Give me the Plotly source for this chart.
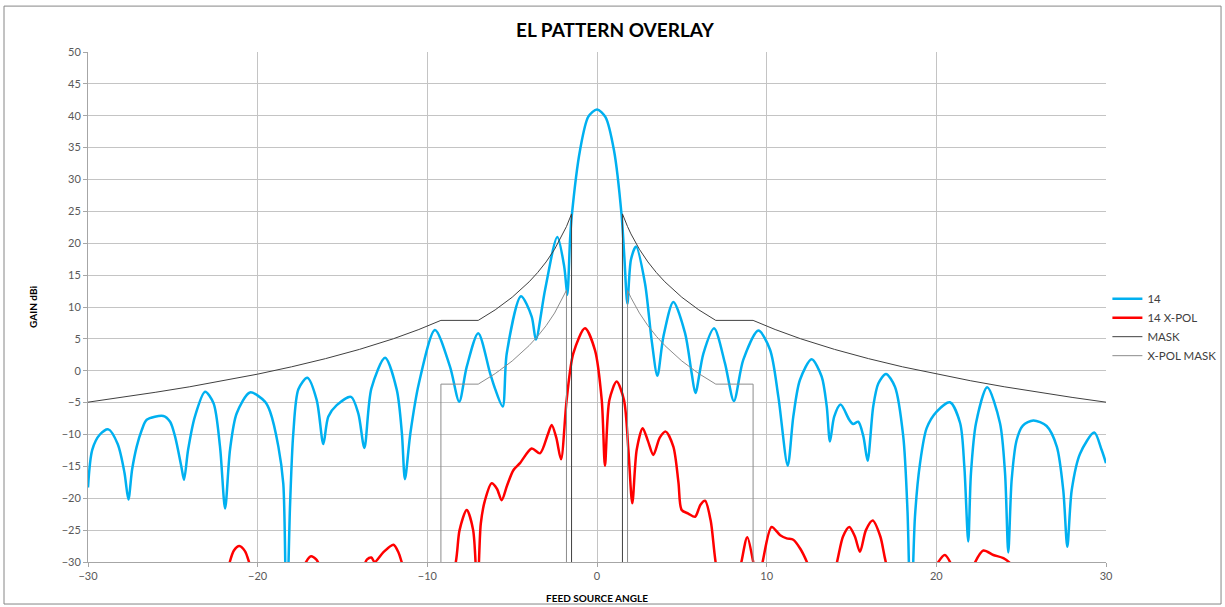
import plotly.graph_objects as go

# ---------------- data ----------------
BLUE_X = [-30.0, -29.75, -29.3, -28.8, -28.25, -27.85, -27.62, -27.4, -27.13, -26.83, -26.54, -25.56,
          -25.16, -24.87, -24.5, -24.34, -24.1, -23.7, -23.1, -22.6, -22.22, -21.92, -21.63, -21.24,
          -20.45, -19.57, -19.27, -18.78, -18.49, -18.3, -18.09, -17.9, -17.6, -17.07, -16.52, -16.13,
          -15.84, -15.34, -14.5, -14.07, -13.71, -13.3, -12.49, -11.8, -11.5, -11.32, -11.0, -10.5,
          -9.55, -8.66, -8.12, -7.68, -7.0, -6.3, -6.01, -5.56, -5.32, -4.48, -3.85, -3.6, -3.06,
          -2.34, -1.93, -1.75, -1.59, -1.49, -1.0, -0.51, 0.0, 0.5, 1.0, 1.45, 1.61, 1.79, 2.0, 2.3,
          2.83, 3.22, 3.56, 3.91, 4.5, 5.19, 5.58, 5.8, 6.27, 6.9, 7.54, 8.07, 8.62, 9.51, 10.2,
          10.69, 11.24, 11.57, 11.96, 12.65, 13.24, 13.54, 13.73, 13.98, 14.36, 14.87, 15.1, 15.4,
          15.7, 15.95, 16.28, 16.58, 17.03, 17.56, 18.05, 18.3, 18.5, 18.74, 19.04, 19.43, 20.02,
          20.8, 21.4, 21.65, 21.88, 22.04, 22.34, 23.0, 23.75, 24.05, 24.24, 24.44, 24.73, 25.1,
          25.72, 26.5, 27.1, 27.48, 27.72, 27.98, 28.47, 29.31, 29.74, 30.0]
BLUE_Y = [-18.3, -12.4, -10.0, -9.2, -11.5, -16.0, -20.2, -15.5, -11.9, -9.3, -7.7, -7.1,
          -8.0, -10.3, -15.0, -17.1, -12.4, -7.2, -3.3, -5.1, -11.9, -21.6, -12.4, -6.7,
          -3.4, -4.85, -6.4, -11.9, -17.7, -40.0, -21.0, -9.8, -2.9, -1.1, -4.6, -11.5,
          -7.2, -5.4, -4.1, -6.7, -12.1, -2.8, 2.05, -3.0, -9.8, -17.0, -9.8, -2.0,
          6.4, 0.6, -4.85, 0.6, 5.9, -0.4, -2.8, -5.6, 2.7, 11.7, 8.5, 4.9, 12.7,
          21.0, 16.3, 11.9, 20.5, 24.2, 34.6, 39.85, 41.0, 39.8, 34.6, 24.4, 17.9, 10.5, 17.4, 19.5,
          13.7, 4.8, -0.8, 5.3, 10.8, 5.9, -0.4, -3.5, 2.7, 6.65, 1.2, -4.75, 1.7, 6.3, 3.3,
          -4.1, -14.9, -7.2, -1.45, 1.8, -0.9, -5.6, -11.1, -7.2, -5.3, -7.7, -8.35, -8.0,
          -10.3, -14.1, -5.6, -2.0, -0.5, -2.5, -10.3, -22.0, -40.0, -22.9, -14.5, -9.0, -6.4,
          -4.95, -8.2, -15.0, -26.8, -16.1, -8.2, -2.6, -8.2, -16.1, -28.5, -17.1, -10.9, -8.6,
          -7.8, -8.67, -11.9, -18.7, -27.6, -18.7, -13.0, -9.7, -12.4, -14.5]

RED_X = [-22.5, -21.7, -21.4, -21.08, -20.75, -20.45, -19.5, -17.4, -17.15, -16.85, -16.55, -16.35,
         -15.0, -13.8, -13.55, -13.3, -13.1, -12.6, -12.0, -11.7, -11.45, -10.0, -8.4, -8.1, -7.68,
         -7.3, -7.05, -6.85, -6.6, -6.21, -5.9, -5.62, -5.3, -4.93, -4.54, -3.85, -3.36, -2.9, -2.67,
         -2.4, -2.12, -1.79, -1.4, -0.71, -0.12, 0.28, 0.47, 0.73, 1.16, 1.59, 1.85, 2.08, 2.34,
         2.69, 3.0, 3.32, 3.7, 4.05, 4.5, 4.8, 4.99, 5.38, 5.78, 6.1, 6.37, 6.7, 7.05, 7.8, 8.47,
         8.86, 9.25, 9.5, 9.76, 10.29, 10.8, 11.18, 11.57, 12.0, 12.45, 13.3, 14.1, 14.5, 14.87,
         15.2, 15.5, 15.85, 16.25, 16.7, 17.07, 18.5, 20.0, 20.5, 20.9, 21.5, 22.2, 22.77, 23.36,
         23.95, 24.44, 25.0]
RED_Y = [-38.0, -30.5, -28.2, -27.5, -28.3, -30.5, -38.0, -32.0, -30.0, -29.1, -29.6, -30.5,
         -38.0, -31.0, -29.6, -29.3, -30.0, -28.5, -27.3, -28.5, -30.5, -40.0, -31.0, -25.0, -21.85,
         -25.0, -35.0, -24.0, -20.3, -17.65, -18.5, -20.3, -18.0, -15.6, -14.5, -12.2, -12.95, -10.0, -8.5,
         -10.5, -13.9, -4.6, 2.7, 6.66, 3.25, -4.6, -14.9, -4.6, -1.7, -4.6, -12.4, -20.8, -12.4,
         -9.0, -11.0, -13.2, -10.5, -9.55, -11.9, -17.5, -21.85, -22.4, -22.9, -21.0, -20.4, -23.5, -31.0, -38.0, -30.5,
         -26.1, -30.5, -33.0, -30.0, -24.5, -25.8, -26.3, -26.5, -28.0, -30.5, -37.0, -30.5, -26.0, -24.5,
         -26.0, -28.4, -25.0, -23.5, -26.0, -30.5, -40.0, -30.5, -28.9, -30.5, -36.0, -30.5, -28.2, -28.9,
         -29.4, -30.5, -36.0]

MASK_X = [-30, -28, -26, -24, -22, -20, -18, -16, -14, -12, -10.5, -9.2, -7, -6, -5, -4, -3.5, -3,
          -2.5, -2, -1.8, -1.5, -1.5, None,
          1.5, 1.5, 1.8, 2, 2.5, 3, 3.5, 4, 5, 6, 7, 9.2, 10.5, 12, 14, 16, 18, 20, 22, 24, 26, 28, 30]
MASK_Y = [-4.93, -4.18, -3.37, -2.51, -1.56, -0.53, 0.62, 1.90, 3.35, 5.02, 6.47, 7.9, 7.9, 9.55,
          11.53, 13.95, 15.40, 17.07, 19.05, 21.47, 22.62, 24.6, -31, None,
          -31, 24.6, 22.62, 21.47, 19.05, 17.07, 15.40, 13.95, 11.53, 9.55, 7.9, 7.9, 6.47, 5.02,
          3.35, 1.90, 0.62, -0.53, -1.56, -2.51, -3.37, -4.18, -4.93]

XPOL_X = [-9.2, -9.2, -7, -6, -5, -4, -3.5, -3, -2.5, -2, -1.8, -1.8, None,
          1.8, 1.8, 2, 2.5, 3, 3.5, 4, 5, 6, 7, 9.2, 9.2]
XPOL_Y = [-31, -2.1, -2.1, -0.45, 1.53, 3.95, 5.40, 7.07, 9.05, 11.47, 12.62, -31, None,
          -31, 12.62, 11.47, 9.05, 7.07, 5.40, 3.95, 1.53, -0.45, -2.1, -2.1, -31]

X_TICKS = [-30, -20, -10, 0, 10, 20, 30]
Y_TICKS = list(range(-30, 55, 5))

FONT = "Lato, 'Open Sans', sans-serif"

fig = go.Figure()
fig.add_trace(go.Scatter(x=BLUE_X, y=BLUE_Y, mode="lines", name="14",
                         line=dict(color="#00B0F0", width=2.5, shape="spline", smoothing=0.8)))
fig.add_trace(go.Scatter(x=RED_X, y=RED_Y, mode="lines", name="14 X-POL",
                         line=dict(color="#FF0000", width=2.5, shape="spline", smoothing=0.8)))
fig.add_trace(go.Scatter(x=MASK_X, y=MASK_Y, mode="lines", name="MASK",
                         line=dict(color="#404040", width=1), connectgaps=False))
fig.add_trace(go.Scatter(x=XPOL_X, y=XPOL_Y, mode="lines", name="X-POL MASK",
                         line=dict(color="#8c8c8c", width=1), connectgaps=False))

fig.update_layout(
    width=1225, height=607,
    margin=dict(l=88, r=119, t=52, b=45),
    paper_bgcolor="white", plot_bgcolor="white",
    font=dict(family=FONT, size=11, color="#595959"),
    title=dict(text="<b>EL PATTERN OVERLAY</b>", xref="container", x=0.502, y=0.95,
               xanchor="center", yanchor="middle",
               font=dict(family=FONT, size=19, color="#000000")),
    legend=dict(xref="container", yref="container", x=0.904, y=0.461,
                xanchor="left", yanchor="middle",
                font=dict(family=FONT, size=11.5, color="#404040"),
                itemwidth=30, tracegroupgap=0, bgcolor="rgba(0,0,0,0)"),
    showlegend=True,
)
fig.update_xaxes(range=[-30, 30], tickvals=X_TICKS, showgrid=True, gridcolor="#c4c4c4",
                 zeroline=False, showline=True, linecolor="#a6a6a6", ticks="outside",
                 ticklen=4, tickcolor="#a6a6a6", automargin=False,
                 title=dict(text="<b>FEED SOURCE ANGLE</b>", standoff=13,
                            font=dict(family=FONT, size=10, color="#000000")))
fig.update_yaxes(range=[-30, 50], tickvals=Y_TICKS, showgrid=True, gridcolor="#c4c4c4",
                 zeroline=False, showline=True, linecolor="#a6a6a6", ticks="outside",
                 ticklen=4, tickcolor="#a6a6a6", automargin=False,
                 title=dict(text="<b>GAIN dBi</b>", standoff=22,
                            font=dict(family=FONT, size=10, color="#000000")))

# outer chart border
fig.add_shape(type="rect", xref="paper", yref="paper",
              x0=-0.0825, x1=1.113, y0=-0.0824, y1=1.090,
              line=dict(color="#868686", width=1), layer="below")

fig.write_html("out.html", config={"displayModeBar": False},
               post_script="document.body.style.margin='0';")
